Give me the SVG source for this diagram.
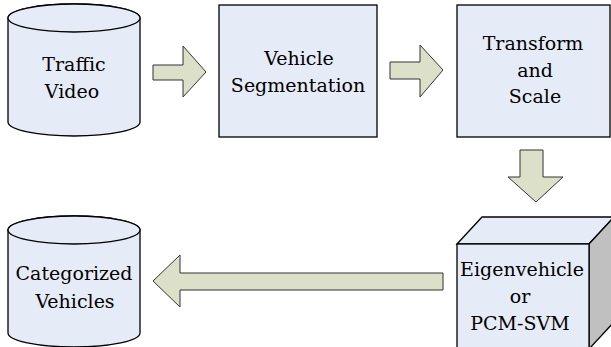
<svg xmlns="http://www.w3.org/2000/svg" width="611" height="347" viewBox="0 0 611 347">
<style>
.n{fill:#e6ecf7;stroke:#000;stroke-width:1.3}
.side{fill:#c0c0c0;stroke:#000;stroke-width:1.3}
.a{fill:#dde0c8;stroke:#333;stroke-width:1}
.t{font-size:19px;fill:#000;text-anchor:middle}
</style>
<rect width="611" height="347" fill="#fff"/>
<g id="traffic-video">
<path class="n" d="M8,18 L8,122 A66,14 0 0 0 140,122 L140,18 A66,14 0 0 0 8,18 Z"/>
<ellipse class="n" cx="74" cy="18" rx="66" ry="14"/>
<text class="t" font-family="DejaVu Serif" x="74" y="71">Traffic</text>
<text class="t" font-family="DejaVu Serif" x="72" y="98">Video</text>
</g>
<g id="vehicle-segmentation">
<rect class="n" x="219" y="5" width="158" height="132"/>
<text class="t" font-family="DejaVu Serif" x="299" y="65">Vehicle</text>
<text class="t" font-family="DejaVu Serif" x="298" y="92">Segmentation</text>
</g>
<g id="transform-scale">
<rect class="n" x="457" y="5" width="153" height="132"/>
<text class="t" font-family="DejaVu Serif" x="533" y="50">Transform</text>
<text class="t" font-family="DejaVu Serif" x="535" y="77">and</text>
<text class="t" font-family="DejaVu Serif" x="535" y="103">Scale</text>
</g>
<g id="eigenvehicle">
<path class="n" d="M457,244 L482,217 L614,217 L589,244 Z"/>
<path class="side" d="M589,244 L614,217 L614,322 L589,349 Z"/>
<rect class="n" x="457" y="244" width="132" height="105"/>
<text class="t" font-family="DejaVu Serif" x="522" y="276">Eigenvehicle</text>
<text class="t" font-family="DejaVu Serif" x="520" y="303">or</text>
<text class="t" font-family="DejaVu Serif" x="520" y="330">PCM-SVM</text>
</g>
<g id="categorized-vehicles">
<path class="n" d="M8,230 L8,333 A66,14 0 0 0 140,333 L140,230 A66,14 0 0 0 8,230 Z"/>
<ellipse class="n" cx="74" cy="230" rx="66" ry="14"/>
<text class="t" font-family="DejaVu Serif" x="74" y="280">Categorized</text>
<text class="t" font-family="DejaVu Serif" x="75" y="308">Vehicles</text>
</g>
<g id="connectors">
<path class="a" d="M153,65 L183,65 L183,46 L206,72 L183,97 L183,80 L153,80 Z"/>
<path class="a" d="M390,62 L420,62 L420,45 L443,70 L420,97 L420,79 L390,79 Z"/>
<path class="a" d="M520,150 L543,150 L543,177 L563,177 L536,202 L508,177 L520,177 Z"/>
<path class="a" d="M443,273 L180,273 L180,255 L153,281 L180,307 L180,290 L443,290 Z"/>
</g>
</svg>
